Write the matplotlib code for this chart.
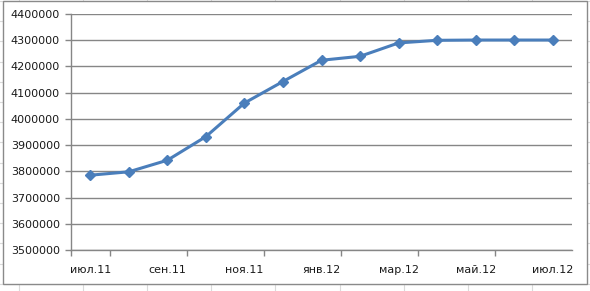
import matplotlib
matplotlib.use("Agg")
import matplotlib.pyplot as plt
from matplotlib.patches import Rectangle
from matplotlib.lines import Line2D

months = ["июл.11", "авг.11", "сен.11", "окт.11", "ноя.11", "дек.11", "янв.12",
          "фев.12", "мар.12", "апр.12", "май.12", "июн.12", "июл.12"]
values = [3785000, 3798000, 3842000, 3932000, 4060000, 4142000, 4223000,
          4238000, 4289000, 4299000, 4300000, 4300000, 4300000]
y_ticks = [3500000, 3600000, 3700000, 3800000, 3900000, 4000000, 4100000,
           4200000, 4300000, 4400000]

W, H = 590, 291
fig = plt.figure(figsize=(W / 100, H / 100), dpi=100)
fig.patch.set_facecolor("white")

def fx(px):
    return px / W

def fy(py):
    return 1 - py / H

# spreadsheet cell lines in the background
for xv in [18.5 + 64.2 * k for k in range(10)]:
    fig.add_artist(Line2D([fx(xv), fx(xv)], [0, 1], color="#dadada", lw=0.8,
                          transform=fig.transFigure, zorder=-3))
for yv in [1 + 20.2 * k for k in range(15)]:
    fig.add_artist(Line2D([0, 1], [fy(yv), fy(yv)], color="#dadada", lw=0.8,
                          transform=fig.transFigure, zorder=-3))

# chart frame
fig.add_artist(Rectangle((fx(3), fy(284)), fx(587) - fx(3), fy(1) - fy(284),
                         transform=fig.transFigure, facecolor="white",
                         edgecolor="#8a8a8a", lw=1.0, zorder=-2))

left, right, top, bottom = 71, 572, 13.8, 250
ax = fig.add_axes([fx(left), fy(bottom), fx(right) - fx(left), fy(top) - fy(bottom)])
ax.set_facecolor("none")

x = list(range(len(months)))
ax.plot(x, values, color="#4A7EBB", lw=2.2, marker="D", markersize=5.5,
        markerfacecolor="#4A7EBB", markeredgecolor="#4A7EBB", zorder=3,
        solid_joinstyle="round")

ax.set_xlim(-0.5, len(months) - 0.5)
ax.set_ylim(y_ticks[0], y_ticks[-1])

ax.set_yticks(y_ticks)
ax.set_yticklabels([str(v) for v in y_ticks])
ax.yaxis.grid(True, color="#868686", lw=1.0)
ax.set_axisbelow(True)

# major ticks between categories (every second), labels on minor ticks
ax.set_xticks([i - 0.5 for i in range(1, len(months) - 1, 2)] + [-0.5])
ax.set_xticklabels([])
ax.set_xticks(x[::2], minor=True)
ax.set_xticklabels(months[::2], minor=True)
ax.tick_params(axis="x", which="major", length=4, color="#868686", width=1)
ax.tick_params(axis="x", which="minor", length=0, pad=11, labelsize=8, labelcolor="#1a1a1a")
ax.tick_params(axis="y", length=4, color="#868686", width=1, pad=4,
               labelsize=8, labelcolor="#1a1a1a")

for s in ["top", "right"]:
    ax.spines[s].set_visible(False)
for s in ["left", "bottom"]:
    ax.spines[s].set_color("#868686")
    ax.spines[s].set_linewidth(1.0)

fig.savefig("out.png", dpi=100, facecolor="white")
